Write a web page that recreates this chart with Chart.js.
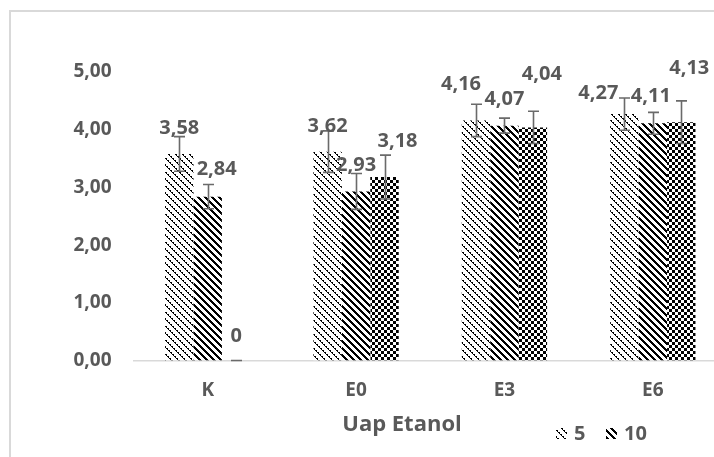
<!doctype html>
<html lang="id">
<head>
<meta charset="utf-8">
<title>Uap Etanol</title>
<script src="https://cdn.jsdelivr.net/npm/chart.js"></script>
<style>
html, body { margin: 0; padding: 0; background: #fff; overflow: hidden; }
#frame {
  position: absolute; left: 9px; top: 10px; width: 800px; height: 600px;
  border-left: 2px solid #d9d9d9; border-top: 2px solid #d9d9d9;
}
#wrap { position: absolute; left: 0; top: 0; width: 760px; height: 457px; }
</style>
</head>
<body>
<div id="frame"></div>
<div id="wrap"><canvas id="chart"></canvas></div>
<script>
// Data
const categories = ['K', 'E0', 'E3', 'E6'];
const seriesNames = ['5', '10', '15'];
const series5  = [3.58, 3.62, 4.16, 4.27];
const series10 = [2.84, 2.93, 4.07, 4.11];
const series15 = [0, 3.18, 4.04, 4.13];
// error bars (+/-)
const err5  = [0.30, 0.36, 0.28, 0.28];
const err10 = [0.21, 0.31, 0.13, 0.19];
const err15 = [0, 0.38, 0.28, 0.37];
const yTicks = [0, 1, 2, 3, 4, 5];

const textColor = '#595959';
const font = '"Open Sans", Lato, sans-serif';

let ctx = document.getElementById('chart').getContext('2d');

// hatch patterns, built pixel by pixel
function makePattern(size, isBlack) {
  let c = document.createElement('canvas');
  c.width = size; c.height = size;
  let g = c.getContext('2d');
  let img = g.createImageData(size, size);
  for (let y = 0; y < size; y++) {
    for (let x = 0; x < size; x++) {
      let v = isBlack(x, y) ? 0 : 255;
      let k = (y * size + x) * 4;
      img.data[k] = v; img.data[k + 1] = v; img.data[k + 2] = v; img.data[k + 3] = 255;
    }
  }
  g.putImageData(img, 0, 0);
  return ctx.createPattern(c, 'repeat');
}

const mod = (a, n) => ((a % n) + n) % n;
const pat5 = makePattern(14, (x, y) => {
  let d = mod(x - y, 7);
  return d === 0 || (d === 1 && y % 2 === 0);
});
const pat10 = makePattern(7, (x, y) => mod(x - y, 7) < 3);
const pat15 = makePattern(6, (x, y) => (Math.floor(x / 3) + Math.floor(y / 3)) % 2 === 0);

const patterns = [pat5, pat10, pat15];
const errors = [err5, err10, err15];

// label nudges [dx, dy] per series / category (labels were moved by hand in the original)
const labelNudge = [
  [[0, 0], [0, 1], [-15, -10], [-26, 5]],
  [[9, -1], [0, 0], [0, 0], [-2, -1]],
  [[0, 2], [13, -10], [9, -27], [8, -28]]
];

function fmt(v) {
  return String(v).replace('.', ',');
}

const extras = {
  id: 'extras',
  afterDatasetsDraw(chart) {
    const c = chart.ctx;
    const y = chart.scales.y;
    c.save();
    // error bars
    c.strokeStyle = '#6a6a6a';
    c.lineWidth = 1.6;
    chart.data.datasets.forEach((ds, si) => {
      chart.getDatasetMeta(si).data.forEach((bar, i) => {
        const v = ds.data[i];
        const e = errors[si][i];
        const yt = y.getPixelForValue(v + e);
        const yb = y.getPixelForValue(v - e);
        const x = Math.round(bar.x) + 0.5;
        c.beginPath();
        c.moveTo(x, yt); c.lineTo(x, yb);
        c.moveTo(x - 5.5, yt); c.lineTo(x + 5.5, yt);
        c.moveTo(x - 5.5, yb); c.lineTo(x + 5.5, yb);
        c.stroke();
      });
    });
    // data labels
    c.fillStyle = textColor;
    c.font = 'bold 20px ' + font;
    c.textAlign = 'center';
    c.textBaseline = 'middle';
    chart.data.datasets.forEach((ds, si) => {
      chart.getDatasetMeta(si).data.forEach((bar, i) => {
        const n = labelNudge[si][i];
        c.fillText(fmt(ds.data[i]), bar.x + n[0], bar.y - 26 + n[1]);
      });
    });
    c.restore();
  },
  afterDraw(chart) {
    const c = chart.ctx;
    c.save();
    c.fillStyle = textColor;
    c.textBaseline = 'middle';
    // axis title
    c.font = 'bold 22px ' + font;
    c.textAlign = 'center';
    c.fillText('Uap Etanol', 402, 425);
    // legend (first two series only)
    c.font = 'bold 20px ' + font;
    c.textAlign = 'left';
    const items = [[556, 0], [606, 1]];
    items.forEach(([x, si]) => {
      c.fillStyle = patterns[si];
      c.fillRect(x, 428, 11, 11);
      c.fillStyle = textColor;
      c.fillText(seriesNames[si], x + 18, 434);
    });
    c.restore();
  }
};

const chart = new Chart(ctx, {
  type: 'bar',
  data: {
    labels: categories,
    datasets: [series5, series10, series15].map((d, i) => ({
      label: seriesNames[i],
      data: d,
      backgroundColor: patterns[i],
      borderWidth: 0,
      categoryPercentage: 0.575,
      barPercentage: 1
    }))
  },
  options: {
    responsive: true,
    maintainAspectRatio: false,
    animation: false,
    layout: { padding: { top: 72, right: 33, left: 0, bottom: 0 } },
    scales: {
      x: {
        grid: { display: false, drawTicks: false },
        border: { color: '#d9d9d9', width: 1.5 },
        ticks: { color: textColor, font: { family: font, size: 19, weight: 'bold' }, padding: 19 },
        afterFit: s => { s.height = 96.5; }
      },
      y: {
        min: 0,
        max: 5,
        grid: { display: false, drawTicks: false },
        border: { display: false },
        afterBuildTicks: s => { s.ticks = yTicks.map(v => ({ value: v })); },
        ticks: {
          color: textColor,
          font: { family: font, size: 19, weight: 'bold' },
          padding: 22,
          callback: v => v.toFixed(2).replace('.', ',')
        },
        afterFit: s => { s.width = 133.5; }
      }
    },
    plugins: {
      legend: { display: false },
      tooltip: { enabled: false }
    }
  },
  plugins: [extras]
});
</script>
</body>
</html>
